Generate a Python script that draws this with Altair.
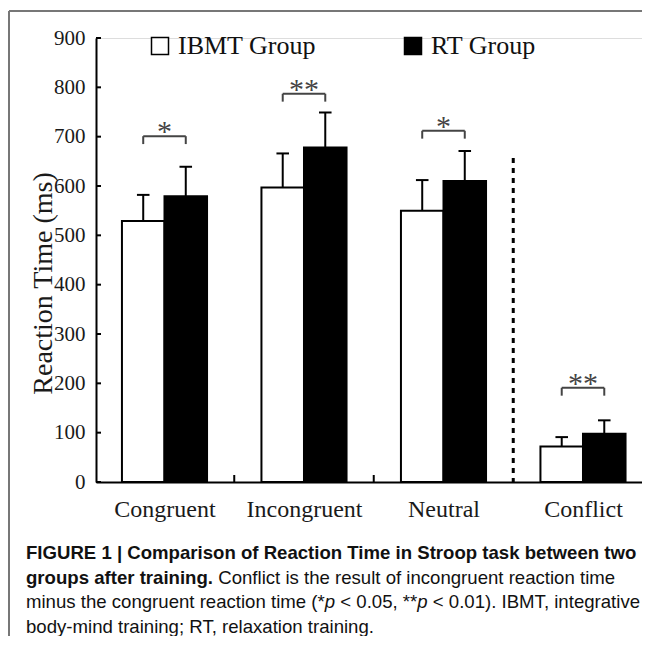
import altair as alt
import pandas as pd

# ---------------- data ----------------
categories = ["Congruent", "Incongruent", "Neutral", "Conflict"]
groups = ["IBMT Group", "RT Group"]
ibmt_mean = [529, 597, 550, 72]
ibmt_upper = [582, 666, 612, 91]
rt_mean = [579, 678, 610, 98]
rt_upper = [639, 749, 671, 125]
sig_labels = ["*", "**", "*", "**"]
sig_level = [701, 787, 712, 191]
y_ticks = [0, 100, 200, 300, 400, 500, 600, 700, 800, 900]
between_ticks = [0.5, 1.5]
divider_pos = [2.5]
divider_top = [657]

caption_line1 = "FIGURE 1 | Comparison of Reaction Time in Stroop task between two"
caption_line2_bold = "groups after training."
caption_line2 = "Conflict is the result of incongruent reaction time"
caption_line3 = ["minus the congruent reaction time (*", "p", "< 0.05, **", "p", "< 0.01). IBMT, integrative"]
caption_line4 = "body-mind training; RT, relaxation training."

# ---------------- tables ----------------
rows = []
for i, c in enumerate(categories):
    rows.append({"cat": c, "idx": i, "series": groups[0], "side": -1, "mean": ibmt_mean[i], "upper": ibmt_upper[i]})
    rows.append({"cat": c, "idx": i, "series": groups[1], "side": 0, "mean": rt_mean[i], "upper": rt_upper[i]})
bars_df = pd.DataFrame(rows)
sig_df = pd.DataFrame({"idx": list(range(len(categories))), "level": sig_level, "label": sig_labels})
ytick_df = pd.DataFrame({"v": y_ticks})
xtick_df = pd.DataFrame({"v": between_ticks})
div_df = pd.DataFrame({"v": divider_pos, "top": divider_top})
one = pd.DataFrame({"a": [0]})

BW = 0.305   # bar width in category units
HALF = BW / 2
CAP = 0.045

W, H = 546, 444
xscale = alt.Scale(domain=[-0.491, -0.491 + W / 139.5], nice=False, zero=False)
yscale = alt.Scale(domain=[0, 900], nice=False)

label_expr = "[" + ",".join("'%s'" % c for c in categories) + "][datum.value]"

SERIF = "Liberation Serif"
SANS = "Liberation Sans"

base = alt.Chart(bars_df).transform_calculate(
    lo="datum.idx + datum.side * %f" % BW,
    hi="datum.idx + (datum.side + 1) * %f" % BW,
    ctr="datum.idx + (datum.side + 0.5) * %f" % BW,
    capl="datum.idx + (datum.side + 0.5) * %f - %f" % (BW, CAP),
    capr="datum.idx + (datum.side + 0.5) * %f + %f" % (BW, CAP),
    zero="0",
)

bars = base.mark_bar(stroke="black", strokeWidth=2).encode(
    x=alt.X("lo:Q", scale=xscale, axis=alt.Axis(
        values=[0, 1, 2, 3], labelExpr=label_expr, tickSize=0, labelPadding=34,
        labelBaseline="alphabetic", labelFont=SERIF, labelFontSize=24, labelColor="#1a1a1a",
        labelOverlap=False, labelFlush=False, labelBound=False, labelAngle=0,
        domainColor="black", domainWidth=2, grid=False, title=None)),
    x2="hi:Q",
    y=alt.Y("mean:Q", scale=yscale, axis=alt.Axis(
        values=y_ticks, tickSize=0, labelPadding=11, labelFont=SERIF, labelFontSize=21,
        labelColor="#1a1a1a", domainColor="black", domainWidth=2, grid=False,
        title="Reaction Time (ms)", titleFont=SERIF, titleFontSize=28, titleFontWeight="normal",
        titleColor="#1a1a1a", titleX=-53, titleY=245, titleAlign="center",
        titleBaseline="middle")),
    y2="zero:Q",
    fill=alt.Fill("series:N", scale=alt.Scale(domain=groups, range=["white", "black"]),
                  legend=alt.Legend(orient="none", legendX=51, legendY=-5, direction="horizontal",
                                    title=None, symbolType="square", symbolSize=289,
                                    symbolStrokeColor="black", symbolStrokeWidth=1.5,
                                    labelFont=SERIF, labelFontSize=26, labelColor="#111",
                                    labelOffset=5, columnPadding=84)),
)

err = base.mark_rule(color="black", strokeWidth=2).encode(
    x="ctr:Q", y="mean:Q", y2="upper:Q")
caps = base.mark_rule(color="black", strokeWidth=2).encode(
    x="capl:Q", x2="capr:Q", y="upper:Q")

sig = alt.Chart(sig_df).transform_calculate(
    l="datum.idx - %f" % HALF, r="datum.idx + %f" % HALF, low="datum.level - 16")
br_h = sig.mark_rule(color="#444", strokeWidth=2).encode(x="l:Q", x2="r:Q", y="level:Q")
br_l = sig.mark_rule(color="#444", strokeWidth=2).encode(x="l:Q", y="level:Q", y2="low:Q")
br_r = sig.mark_rule(color="#444", strokeWidth=2).encode(x="r:Q", y="level:Q", y2="low:Q")
stars = sig.mark_text(font=SERIF, fontSize=30, color="#444", baseline="alphabetic", dy=5).encode(
    x="idx:Q", y="level:Q", text="label:N")

yt = alt.Chart(ytick_df).mark_rule(color="black", strokeWidth=2).encode(
    y="v:Q", x=alt.value(0), x2=alt.value(5))
xt = alt.Chart(xtick_df).mark_rule(color="black", strokeWidth=2).encode(
    x="v:Q", y=alt.value(H), y2=alt.value(H - 7))
div = alt.Chart(div_df).mark_rule(color="black", strokeWidth=3, strokeDash=[5, 5]).encode(
    x="v:Q", y="top:Q", y2=alt.value(H))

frame_top = alt.Chart(one).mark_rule(color="#777", strokeWidth=2).encode(
    x=alt.value(-87), x2=alt.value(600), y=alt.value(-27))
frame_left = alt.Chart(one).mark_rule(color="#777", strokeWidth=2).encode(
    x=alt.value(-87), y=alt.value(-27), y2=alt.value(700))

FS = 18.6
SP = 0.278 * FS

def txt(s, x, y, weight="normal", style="normal"):
    return alt.Chart(one).mark_text(text=s, font=SANS, fontSize=FS, fontWeight=weight,
                                    fontStyle=style, align="left", baseline="alphabetic",
                                    color="#111").encode(x=alt.value(x), y=alt.value(y))

OX, OY = 96, 38
L0 = 26
p1 = L0 + 16.062 * FS
s3 = p1 + 0.556 * FS + SP
p2 = L0 + 21.038 * FS
s5 = p2 + 0.556 * FS + SP
B1, B2, B3, B4 = 559, 583.5, 608, 632.5
caps_txt = [
    txt(caption_line1, L0 - OX, B1 - OY, weight="bold"),
    txt(caption_line2_bold, L0 - OX, B2 - OY, weight="bold"),
    txt(caption_line2, L0 + 10.057 * FS + 0.278 * FS - OX, B2 - OY),
    txt(caption_line3[0], L0 - OX, B3 - OY),
    txt(caption_line3[1], p1 - OX, B3 - OY, style="italic"),
    txt(caption_line3[2], s3 - OX, B3 - OY),
    txt(caption_line3[3], p2 - OX, B3 - OY, style="italic"),
    txt(caption_line3[4], s5 - OX, B3 - OY),
    txt(caption_line4, L0 - OX, B4 - OY),
]

chart = alt.layer(
    frame_top, frame_left, bars, err, caps, br_h, br_l, br_r, stars, yt, xt, div, *caps_txt
).properties(
    width=W, height=H,
    padding={"left": 88, "top": 30, "right": 0, "bottom": 154},
    autosize=alt.AutoSizeParams(type="none"),
).configure_view(stroke=None).configure(background="white")

chart.save("out.html", embed_options={"renderer": "svg", "actions": False})
